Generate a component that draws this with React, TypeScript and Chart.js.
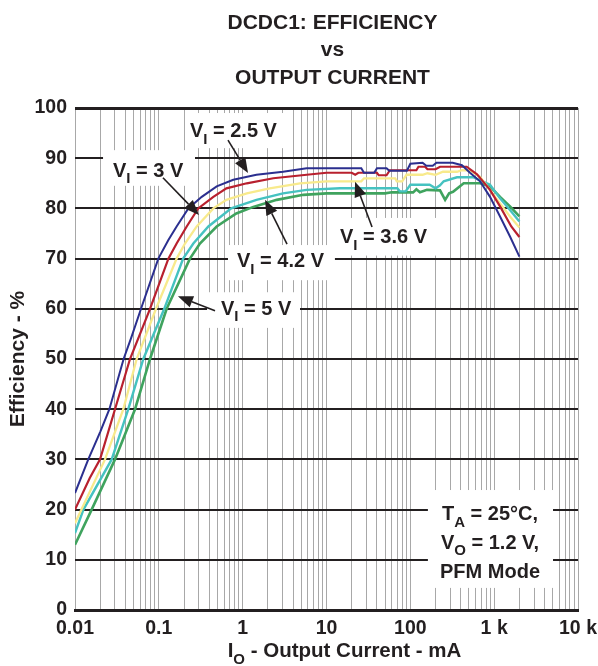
import React, { useEffect, useRef } from 'react';
import { Chart, registerables } from 'chart.js';

Chart.register(...registerables);

// ---------- text ----------
const titleLines = ['DCDC1: EFFICIENCY', 'vs', 'OUTPUT CURRENT'];
const yAxisTitle = 'Efficiency - %';
const xAxisTitleMain = 'I';
const xAxisTitleSub = 'O';
const xAxisTitleRest = ' - Output Current - mA';

// ---------- axes ----------
const xDecades = [0.01, 0.1, 1, 10, 100, 1000, 10000];
const xDecadeLabels = ['0.01', '0.1', '1', '10', '100', '1 k', '10 k'];
const xMinorMultipliers = [2, 3, 4, 5, 6, 7, 8, 9];
const yMin = 0;
const yMax = 100;
const yStep = 10;

// ---------- series (I in mA, efficiency in %) ----------
const seriesLabels = ['VI = 2.5 V', 'VI = 3 V', 'VI = 3.6 V', 'VI = 4.2 V', 'VI = 5 V'];

const i25 = [0.01, 0.0144, 0.02, 0.0257, 0.038, 0.047, 0.0613, 0.0986, 0.13, 0.163, 0.225, 0.325, 0.49, 0.773, 1.46, 3.03, 5.8, 26, 28, 37, 40, 52, 56, 91, 100, 140, 155, 185, 205, 320, 413, 515, 678, 892, 1175, 1545, 2000];
const e25 = [23.3, 30, 35.5, 40, 50, 54.3, 60, 70, 73.7, 76.4, 80, 82.3, 84.4, 85.7, 86.7, 87.3, 88.0, 88.0, 87.1, 87.1, 88.0, 88.0, 87.5, 87.5, 88.9, 89.1, 88.5, 88.5, 89.1, 89.1, 88.6, 87.1, 85.4, 82.3, 78.4, 74.4, 70.4];

const i30 = [0.01, 0.015, 0.0199, 0.03, 0.0453, 0.0785, 0.13, 0.163, 0.215, 0.295, 0.447, 0.64, 1.12, 2.32, 5.8, 10, 20, 22, 24, 40, 42, 52, 57, 118, 125, 150, 160, 200, 226, 470, 624, 892, 1175, 1600, 2000];
const e30 = [20, 26.3, 30, 40, 50, 60, 70, 73, 76.4, 80, 82.3, 84, 85, 86, 86.7, 87.1, 87.1, 86.7, 87.1, 87.1, 86.6, 86.6, 87.6, 87.6, 88.3, 88.3, 87.8, 87.8, 88.3, 88.3, 86.8, 83.7, 80.4, 76.4, 74.3];

const i36 = [0.01, 0.0228, 0.0377, 0.0544, 0.0925, 0.163, 0.205, 0.283, 0.447, 0.64, 1.12, 2.1, 4.83, 10, 26, 28, 66, 69, 80, 90, 140, 160, 200, 245, 360, 413, 515, 678, 892, 1175, 1545, 2000];
const e36 = [17.3, 30, 40, 50, 60, 70, 73, 76.4, 80, 81.7, 83, 84, 85, 85.4, 85.4, 86.0, 86.0, 85.4, 85.4, 86.7, 86.7, 87.0, 86.7, 87.3, 87.3, 87.6, 87.6, 86.3, 83.7, 81.0, 78.4, 76.2];

const i42 = [0.01, 0.0126, 0.0274, 0.0432, 0.0653, 0.116, 0.195, 0.258, 0.39, 0.73, 1.46, 3.03, 5.8, 14.5, 70, 75, 88, 100, 170, 200, 226, 250, 360, 560, 892, 1175, 1545, 2000];
const e42 = [15.3, 20, 30, 40, 50, 60, 70, 73, 76.4, 80, 81.7, 83, 83.7, 84.0, 84.0, 83.4, 83.4, 84.7, 84.7, 84.0, 84.6, 85.4, 86.2, 86.2, 84.7, 82.0, 79.7, 77.4];

const i50 = [0.01, 0.0158, 0.03, 0.052, 0.0785, 0.124, 0.235, 0.309, 0.49, 0.84, 1.34, 2.55, 5.3, 10, 50, 60, 108, 118, 130, 158, 226, 260, 290, 323, 433, 678, 892, 1175, 1545, 2000];
const e50 = [13, 20, 30, 40, 50, 60, 70, 73, 76.4, 79, 80.3, 81.7, 82.7, 83.0, 83.0, 83.2, 83.2, 83.8, 83.2, 83.7, 83.6, 81.7, 83.0, 83.3, 85.0, 85.0, 84.4, 82.3, 80.4, 78.4];

// ---------- styles ----------
const FONT = '"Liberation Sans", Arial, Helvetica, sans-serif';
const INK = '#231f20';
const GRID_GRAY = '#a8a8a8';
const seriesColors = ['#2b2f8f', '#b8202e', '#f8ea8c', '#45c2c0', '#3fa35e'];
const seriesWidths = [2, 2.2, 2.3, 2.4, 2.6];

// ---------- annotations (anchored in data units: [current mA, efficiency %]) ----------
type Part = { t: string; sub?: boolean };
const callouts = [
  { parts: [{ t: 'V' }, { t: 'I', sub: true }, { t: ' = 2.5 V' }], box: [0.205, 3.38, 92.0, 99.0], text: [0.235, 94.2], from: [0.668, 93.6], to: [1.158, 87.05] },
  { parts: [{ t: 'V' }, { t: 'I', sub: true }, { t: ' = 3 V' }], box: [0.0216, 0.27, 84.5, 91.6], text: [0.0284, 86.3], from: [0.112, 86.1], to: [0.301, 78.7] },
  { parts: [{ t: 'V' }, { t: 'I', sub: true }, { t: ' = 4.2 V' }], box: [0.668, 12.6, 65.7, 72.7], text: [0.856, 68.3], from: [3.38, 72.9], to: [1.85, 81.7] },
  { parts: [{ t: 'V' }, { t: 'I', sub: true }, { t: ' = 5 V' }], box: [0.376, 4.83, 56.2, 63.3], text: [0.552, 58.8], from: [0.468, 59.6], to: [0.169, 62.5] },
  { parts: [{ t: 'V' }, { t: 'I', sub: true }, { t: ' = 3.6 V' }], box: [12.6, 226, 70.6, 78.1], text: [14.5, 73.1], from: [34.9, 76.3], to: [21.9, 85.3] },
];
const conditionLines: Part[][] = [
  [{ t: 'T' }, { t: 'A', sub: true }, { t: ' = 25°C,' }],
  [{ t: 'V' }, { t: 'O', sub: true }, { t: ' = 1.2 V,' }],
  [{ t: 'PFM Mode' }],
];
const conditionBox = [162, 5035, 4.4, 23.9];
const conditionCenterX = 892;
const conditionBaselines = [17.9, 12.2, 6.4];

function drawParts(ctx: CanvasRenderingContext2D, parts: Part[], x: number, y: number, size: number, align: 'left' | 'center') {
  const subSize = Math.round(size * 0.75);
  const fMain = `bold ${size}px ${FONT}`;
  const fSub = `bold ${subSize}px ${FONT}`;
  let total = 0;
  const widths = parts.map((p) => {
    ctx.font = p.sub ? fSub : fMain;
    const w = ctx.measureText(p.t).width;
    total += w;
    return w;
  });
  let cx = align === 'center' ? x - total / 2 : x;
  ctx.textAlign = 'left';
  ctx.textBaseline = 'alphabetic';
  ctx.fillStyle = INK;
  parts.forEach((p, k) => {
    ctx.font = p.sub ? fSub : fMain;
    ctx.fillText(p.t, cx, p.sub ? y + size * 0.33 : y);
    cx += widths[k];
  });
}

function drawArrow(ctx: CanvasRenderingContext2D, x1: number, y1: number, x2: number, y2: number) {
  const ang = Math.atan2(y2 - y1, x2 - x1);
  const L = 15;
  const W = 6;
  const bx = x2 - L * Math.cos(ang);
  const by = y2 - L * Math.sin(ang);
  ctx.strokeStyle = INK;
  ctx.lineWidth = 1.6;
  ctx.beginPath();
  ctx.moveTo(x1, y1);
  ctx.lineTo(bx, by);
  ctx.stroke();
  ctx.fillStyle = INK;
  ctx.beginPath();
  ctx.moveTo(x2, y2);
  ctx.lineTo(bx + W * Math.sin(ang), by - W * Math.cos(ang));
  ctx.lineTo(bx - W * Math.sin(ang), by + W * Math.cos(ang));
  ctx.closePath();
  ctx.fill();
}

const decorPlugin = {
  id: 'decor',
  beforeDatasetsDraw(chart: any) {
    const ctx = chart.ctx as CanvasRenderingContext2D;
    const xs = chart.scales.x;
    const ys = chart.scales.y;
    ctx.save();
    ctx.fillStyle = '#ffffff';
    const boxes = callouts.map((c) => c.box).concat([conditionBox]);
    boxes.forEach((b) => {
      const x1 = xs.getPixelForValue(b[0]);
      const x2 = xs.getPixelForValue(b[1]);
      const y1 = ys.getPixelForValue(b[3]);
      const y2 = ys.getPixelForValue(b[2]);
      ctx.fillRect(x1, y1, x2 - x1, y2 - y1);
    });
    ctx.restore();
  },
  afterDatasetsDraw(chart: any) {
    const ctx = chart.ctx as CanvasRenderingContext2D;
    const xs = chart.scales.x;
    const ys = chart.scales.y;
    const area = chart.chartArea;
    ctx.save();
    callouts.forEach((c) => {
      drawParts(ctx, c.parts as Part[], xs.getPixelForValue(c.text[0]), ys.getPixelForValue(c.text[1]), 20, 'left');
      drawArrow(ctx, xs.getPixelForValue(c.from[0]), ys.getPixelForValue(c.from[1]), xs.getPixelForValue(c.to[0]), ys.getPixelForValue(c.to[1]));
    });
    conditionLines.forEach((line, k) => {
      drawParts(ctx, line, xs.getPixelForValue(conditionCenterX), ys.getPixelForValue(conditionBaselines[k]), 20, 'center');
    });
    // chart title
    const cx = (area.left + area.right) / 2 + 6;
    ctx.fillStyle = INK;
    ctx.textAlign = 'center';
    ctx.textBaseline = 'alphabetic';
    ctx.font = `bold 21px ${FONT}`;
    titleLines.forEach((t, k) => ctx.fillText(t, cx, 28.5 + k * 27.5));
    // y axis title
    ctx.save();
    ctx.translate(18, (area.top + area.bottom) / 2);
    ctx.rotate(-Math.PI / 2);
    ctx.textAlign = 'center';
    ctx.textBaseline = 'middle';
    ctx.font = `bold 21px ${FONT}`;
    ctx.fillText(yAxisTitle, 0, 0);
    ctx.restore();
    // x axis title
    drawParts(ctx, [{ t: xAxisTitleMain }, { t: xAxisTitleSub, sub: true }, { t: xAxisTitleRest }], (area.left + area.right) / 2 + 18, area.bottom + 47, 20.5, 'center');
    ctx.restore();
  },
};

function buildXGrid(): number[] {
  const vals: number[] = [];
  xDecades.forEach((d, k) => {
    vals.push(d);
    if (k < xDecades.length - 1) xMinorMultipliers.forEach((m) => vals.push(d * m));
  });
  return vals;
}

function xLabel(v: number): string {
  const k = xDecades.findIndex((d) => Math.abs(Math.log10(d) - Math.log10(v)) < 1e-6);
  return k >= 0 ? xDecadeLabels[k] : '';
}

export default function App() {
  const ref = useRef<HTMLCanvasElement | null>(null);
  useEffect(() => {
    if (!ref.current) return;
    const series = [
      { i: i25, e: e25 },
      { i: i30, e: e30 },
      { i: i36, e: e36 },
      { i: i42, e: e42 },
      { i: i50, e: e50 },
    ];
    const xGrid = buildXGrid();
    const chart = new Chart(ref.current, {
      type: 'line',
      data: {
        datasets: series.map((s, k) => ({
          label: seriesLabels[k],
          data: s.i.map((x, j) => ({ x, y: s.e[j] })),
          borderColor: seriesColors[k],
          backgroundColor: seriesColors[k],
          borderWidth: seriesWidths[k],
          pointRadius: 0,
          tension: 0,
          fill: false,
        })),
      },
      options: {
        responsive: false,
        animation: false,
        devicePixelRatio: 1,
        layout: { padding: { top: 108, right: 20, left: 0, bottom: 0 } },
        plugins: { legend: { display: false }, tooltip: { enabled: false }, title: { display: false } },
        scales: {
          x: {
            type: 'logarithmic',
            min: xDecades[0],
            max: xDecades[xDecades.length - 1],
            afterBuildTicks: (s: any) => {
              s.ticks = xGrid.map((v) => ({ value: v }));
            },
            afterFit: (s: any) => {
              s.height = 56;
              s.paddingLeft = 0;
              s.paddingRight = 0;
            },
            ticks: {
              autoSkip: false,
              maxRotation: 0,
              minRotation: 0,
              padding: 7,
              color: INK,
              font: { family: FONT, size: 19.5, weight: 'bold' },
              callback: (v: any) => xLabel(Number(v)),
            },
            grid: { color: GRID_GRAY, lineWidth: 1, drawTicks: false, z: -2 },
            border: { display: true, color: INK, width: 3 },
          },
          y: {
            min: yMin,
            max: yMax,
            afterFit: (s: any) => {
              s.width = 75;
              s.paddingTop = 0;
              s.paddingBottom = 0;
            },
            ticks: {
              stepSize: yStep,
              padding: 8,
              color: INK,
              font: { family: FONT, size: 19.5, weight: 'bold' },
            },
            grid: {
              color: INK,
              lineWidth: (c: any) => (c.tick && c.tick.value === yMax ? 3 : 2),
              drawTicks: false,
              z: -1,
            },
            border: { display: false },
          },
        },
      } as any,
      plugins: [decorPlugin],
    });
    return () => chart.destroy();
  }, []);
  return (
    <div style={{ position: 'absolute', left: 0, top: 0, width: 598, height: 666, background: '#fff' }}>
      <canvas ref={ref} width={598} height={666} style={{ display: 'block' }} />
    </div>
  );
}
